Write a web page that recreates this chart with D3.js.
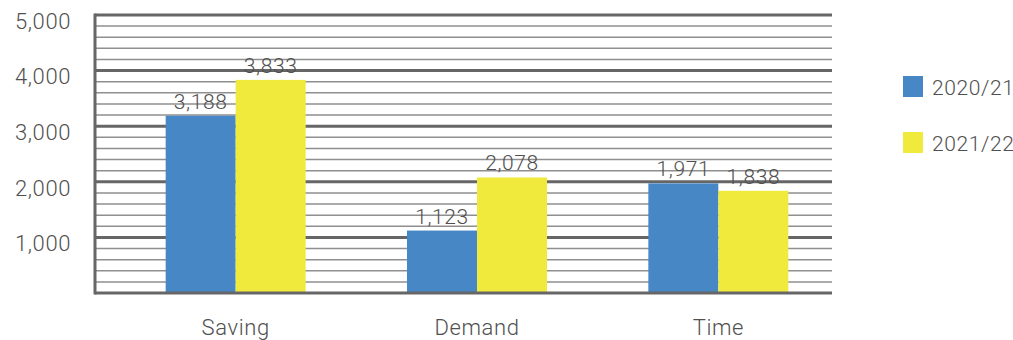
<!DOCTYPE html>
<html><head><meta charset="utf-8">
<script src="https://cdn.jsdelivr.net/npm/d3@7"></script>
<style>body{margin:0;background:#fff}svg{display:block}text{font-family:Roboto,"DejaVu Sans",sans-serif;font-weight:300;fill:#505050;letter-spacing:0.6px}</style>
</head><body><svg id="c" width="1013" height="340"></svg>
<script>
const categories = ["Saving", "Demand", "Time"];
const seriesNames = ["2020/21", "2021/22"];
const values2020 = [3188, 1123, 1971];
const values2021 = [3833, 2078, 1838];
const yTicks = [1000, 2000, 3000, 4000, 5000];
const colors = ["#4787C6", "#F0EA3C"];

const svg = d3.select("#c");
const L = 95, R = 832, T = 15, B = 293;
const y = d3.scaleLinear().domain([0, 5000]).range([B, T]);
const x0 = d3.scaleBand().domain(categories).range([115, 839]).paddingInner(0.42).paddingOuter(0.21);
const x1 = d3.scaleBand().domain(seriesNames).range([0, x0.bandwidth()]);

// minor grid
const minor = d3.range(200, 5000, 200).filter(v => v % 1000 !== 0);
svg.append("g").selectAll("line").data(minor).join("line")
  .attr("x1", L).attr("x2", R).attr("y1", d => y(d)).attr("y2", d => y(d))
  .attr("stroke", "#8f8f8f").attr("stroke-width", 1.5);
// major grid
svg.append("g").selectAll("line").data(yTicks).join("line")
  .attr("x1", L).attr("x2", R).attr("y1", d => y(d)).attr("y2", d => y(d))
  .attr("stroke", "#666").attr("stroke-width", 3);

// y labels
const yAxis = d3.axisLeft(y).tickValues(yTicks).tickFormat(d3.format(",")).tickSize(0).tickPadding(0);
const ga = svg.append("g").attr("transform", `translate(${L - 24},0)`).call(yAxis);
ga.select(".domain").remove();
ga.selectAll("text").attr("font-size", 22).attr("dy", "0.6em").style("fill", "#505050").style("font-family", "Roboto");

const data = categories.map((c, i) => ({cat: c, vals: [values2020[i], values2021[i]]}));
const groups = svg.append("g").selectAll("g").data(data).join("g")
  .attr("transform", d => `translate(${x0(d.cat)},0)`);
groups.selectAll("rect").data(d => d.vals.map((v, j) => ({s: seriesNames[j], v, j}))).join("rect")
  .attr("x", d => x1(d.s)).attr("width", x1.bandwidth())
  .attr("y", d => y(d.v)).attr("height", d => B - y(d.v))
  .attr("fill", d => colors[d.j]);
groups.selectAll("text").data(d => d.vals.map((v, j) => ({s: seriesNames[j], v, j}))).join("text")
  .attr("x", d => x1(d.s) + x1.bandwidth() / 2).attr("y", d => y(d.v) - 7)
  .attr("text-anchor", "middle").attr("font-size", 21).text(d => d3.format(",")(d.v));

// axes lines
svg.append("line").attr("x1", L).attr("x2", R).attr("y1", B).attr("y2", B).attr("stroke", "#666").attr("stroke-width", 3);
svg.append("line").attr("x1", L).attr("x2", L).attr("y1", T - 1.5).attr("y2", B + 1.5).attr("stroke", "#666").attr("stroke-width", 3);

// x labels
const xAxis = d3.axisBottom(x0).tickSize(0).tickPadding(0);
const gx = svg.append("g").attr("transform", `translate(0,${B + 26})`).call(xAxis);
gx.select(".domain").remove();
gx.selectAll("text").attr("font-size", 22).attr("dy", "0.71em").style("fill", "#505050").style("font-family", "Roboto");

// legend
const leg = svg.append("g").selectAll("g").data(seriesNames).join("g")
  .attr("transform", (d, i) => `translate(903,${76 + i * 56})`);
leg.append("rect").attr("width", 20).attr("height", 21).attr("fill", (d, i) => colors[i]);
leg.append("text").attr("x", 29).attr("y", 11).attr("dy", "0.36em").attr("font-size", 21).text(d => d);
</script></body></html>
